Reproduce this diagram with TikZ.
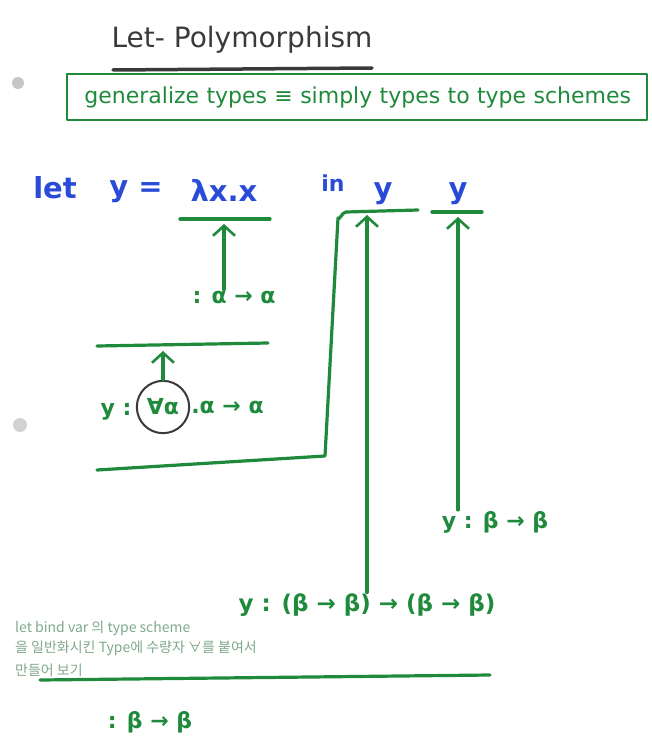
\documentclass[tikz,border=0pt]{standalone}
\usepackage{fontspec}
\setmainfont{DejaVu Sans}
\newfontfamily\krfont{Noto Sans CJK KR}
\usetikzlibrary{arrows.meta}
\definecolor{pen}{HTML}{1F8A3C}
\definecolor{ink}{HTML}{2A4BD8}
\definecolor{lead}{HTML}{3A3A3A}
\definecolor{pencil}{HTML}{7FA88C}

\begin{document}
\begin{tikzpicture}[x=1pt,y=-1pt,line cap=round,line join=round,
  stroke/.style={pen,line width=3.2pt},
  up/.style={stroke,shorten >=5pt,-{Straight Barb[length=10pt,width=22pt,line width=2.6pt]}},
  typ/.style={text=pen,font=\bfseries\fontsize{22}{26}\selectfont,inner sep=1pt},
  term/.style={text=ink,font=\bfseries\fontsize{29}{32}\selectfont,inner sep=1pt},
  note/.style={text=pencil,font=\krfont\fontsize{14}{16}\selectfont,inner sep=0pt,anchor=west}]
  \useasboundingbox (0,0) rectangle (652,752);
  % title
  \node[text=lead,font=\fontsize{28}{30}\selectfont] (title) at (242,40) {Let- Polymorphism};
  \coordinate (tl) at (113,70);
  \coordinate (tr) at (372,68);
  \draw[lead,line width=3.5pt] (tl) -- (tr);
  \fill[gray!45] (18,83) circle (6);
  \fill[gray!35] (20,425) circle (7);
  \node[draw=pen,line width=2.5pt,typ,font=\fontsize{22}{26}\selectfont,minimum width=580pt,minimum height=46pt,text width=548pt,align=right] (gen) at (357,97) {generalize types ≡ simply types to type schemes};
  % the term
  \node[term] (let) at (55,188) {let};
  \node[term] (eq) at (136,192) {y =};
  \node[term] (lam) at (224,190) {λx.x};
  \node[term,font=\bfseries\fontsize{22}{26}\selectfont] (in) at (333,183) {in};
  \node[term] (y1) at (383,194) {y};
  \node[term] (y2) at (458,194) {y};
  \coordinate (lamL) at (180,219);
  \coordinate (lamR) at (270,219);
  \draw[stroke] (lamL) -- (lamR);
  \node[typ] (aa) at (234,297) {: α → α};
  \draw[up] (aa.north -| lam) -- (lam |- lamL);
  % generalisation
  \coordinate (genL) at (97,346);
  \coordinate (genR) at (268,343);
  \draw[stroke] (genL) -- (genR);
  \node[typ] (yc) at (116,412) {y :};
  \node[typ,draw=lead,circle,line width=2pt,inner sep=6pt] (fa) at (163,407) {∀α};
  \node[typ,anchor=west] (body) at (fa.east) {.α → α};
  \draw[up] (fa.north) -- (fa.north |- genL);
  \coordinate (c1) at (97,470);
  \coordinate (c2) at (325,456);
  \coordinate (c3) at (338,218);
  \coordinate (c4) at (418,210);
  \draw[stroke] (c1) -- (c2) -- (c3) to[out=-80,in=180] ++(8,-6) -- (c4);
  \coordinate (d1) at (432,212);
  \coordinate (d2) at (482,212);
  \draw[stroke] (d1) -- (d2);
  % instances
  \node[typ] (yb) at (495,522) {y : β → β};
  \draw[up] (yb.north -| y2) -- (y2 |- d1);
  \node[typ,font=\bfseries\fontsize{23}{28}\selectfont] (ybb) at (367,605) {y : (β → β) → (β → β)};
  \draw[up] (ybb.north) -- (ybb.north |- c4);
  \node[note] (kr1) at (15,628) {let bind var 의 type scheme};
  \node[note] (kr2) at (15,648) {을 일반화시킨 Type에 수량자 ∀를 붙여서};
  \node[note] (kr3) at (15,670) {만들어 보기};
  \coordinate (e1) at (40,680);
  \coordinate (e2) at (490,675);
  \draw[stroke] (e1) -- (e2);
  \node[typ] (bb) at (150,722) {: β → β};
\end{tikzpicture}
\end{document}
